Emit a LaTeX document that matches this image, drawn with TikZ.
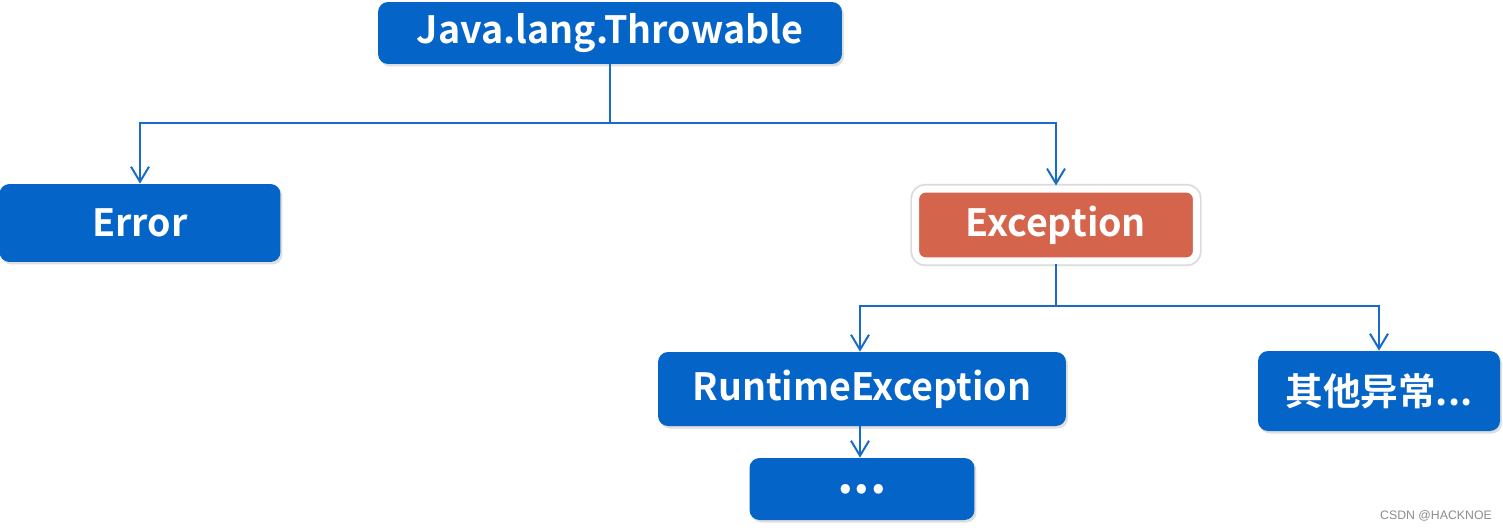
\documentclass[tikz,border=0pt]{standalone}
\usepackage{fontspec}
\usetikzlibrary{arrows.meta,shadows}
\newfontfamily\boxfont{Noto Sans CJK SC Bold}
\setmainfont{Liberation Sans}
\definecolor{boxblue}{RGB}{4,100,200}
\definecolor{lineblue}{RGB}{22,108,200}
\definecolor{excred}{RGB}{212,101,76}

\begin{document}
\begin{tikzpicture}[x=0.02cm,y=-0.02cm,
    box/.style={rounded corners=0.2cm,fill=boxblue,text=white,inner sep=0pt,
        font=\boxfont\fontsize{21.4}{24}\selectfont,
        drop shadow={opacity=0.25,shadow xshift=0.04cm,shadow yshift=-0.05cm}},
    link/.style={draw=lineblue,line width=0.04cm},
    arr/.style={link,-{Straight Barb[length=0.3cm,width=0.36cm,line width=0.04cm]}}]
                \useasboundingbox (0,0) rectangle (1503,531);

                \node[box,minimum width=9.28cm,minimum height=1.24cm] (throwable) at (610,33) {Java.lang.Throwable};
                \node[box,minimum width=5.62cm,minimum height=1.56cm] (error) at (140,223) {Error};
                \node[box,minimum width=5.62cm,minimum height=1.44cm,fill=excred,draw=white,line width=0.14cm,
                    drop shadow={opacity=0.4,shadow xshift=0.03cm,shadow yshift=-0.07cm},
                    preaction={draw=black!14,line width=0.21cm}] (exception) at (1056,225) {Exception};
                \node[box,minimum width=8.16cm,minimum height=1.48cm] (runtime) at (862,389) {RuntimeException};
                \node[box,minimum width=4.84cm,minimum height=1.6cm] (other) at (1379,391) {其他异常...};
                \node[box,minimum width=4.5cm,minimum height=1.24cm,font=\boxfont\fontsize{29}{30}\selectfont] (more) at (862,489) {...};

                \coordinate (fork1) at (610,123);
                \coordinate (fork2) at (1056,306);

                \path [link] (throwable) -- (fork1);
                \path [arr] (fork1) -| (error);
                \path [arr] (fork1) -| (exception);
                \path [link] (exception) -- (fork2);
                \path [arr] (fork2) -| ([xshift=-0.04cm]runtime.north);
                \path [arr] (fork2) -| (other);
                \path [arr] ([xshift=-0.04cm]runtime.south) -- ([xshift=-0.04cm]more.north);

                \node[text=black!45,font=\fontsize{7}{8}\selectfont] (mark) at (1436,516) {CSDN @HACKNOE};
            \end{tikzpicture}
\end{document}
